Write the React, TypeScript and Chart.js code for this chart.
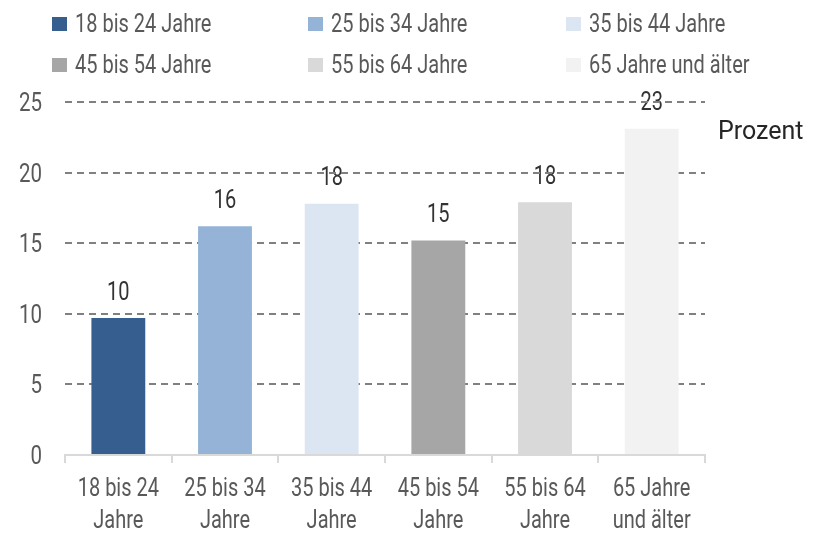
import React, { useEffect, useRef } from "react";
import { Chart, registerables } from "chart.js";

Chart.register(...registerables);

const categories: string[][] = [
  ["18 bis 24", "Jahre"],
  ["25 bis 34", "Jahre"],
  ["35 bis 44", "Jahre"],
  ["45 bis 54", "Jahre"],
  ["55 bis 64", "Jahre"],
  ["65 Jahre", "und älter"],
];
const legendLabels = [
  "18 bis 24 Jahre",
  "25 bis 34 Jahre",
  "35 bis 44 Jahre",
  "45 bis 54 Jahre",
  "55 bis 64 Jahre",
  "65 Jahre und älter",
];
const values = [9.7, 16.2, 17.8, 15.2, 17.9, 23.1];
const colors = ["#365F8F", "#95B3D7", "#DCE6F2", "#A6A6A6", "#D9D9D9", "#F2F2F2"];
const unitLabel = "Prozent";

const FONT = 'Roboto, "Noto Sans", sans-serif';

function txt(ctx: CanvasRenderingContext2D, s: string, x: number, y: number, size: number, sx: number, align: CanvasTextAlign, color: string) {
  ctx.save();
  ctx.font = `${size}px ${FONT}`;
  ctx.fillStyle = color;
  ctx.textAlign = align;
  ctx.textBaseline = "alphabetic";
  ctx.translate(x, y);
  ctx.scale(sx, 1);
  ctx.fillText(s, 0, 0);
  ctx.restore();
}

export default function App() {
  const ref = useRef<HTMLCanvasElement | null>(null);
  useEffect(() => {
    document.body.style.margin = "0";
    const canvas = ref.current!;
    const overlay = {
      id: "overlay",
      beforeDraw(chart: any) {
        const ctx = chart.ctx;
        // value labels (drawn under the gridlines)
        const meta = chart.getDatasetMeta(0);
        meta.data.forEach((el: any, i: number) => {
          txt(ctx, String(Math.round(values[i])), el.x, el.y - 18.5, 25, 0.8, "center", "#333333");
        });
        // legend
        const colX = [52, 308, 566];
        const rowY = [32, 73];
        legendLabels.forEach((t, i) => {
          const x = colX[i % 3];
          const y = rowY[Math.floor(i / 3)];
          ctx.fillStyle = colors[i];
          ctx.fillRect(x, y - 15, 15, 14);
          txt(ctx, t, x + 23, y, 25, 0.8, "left", "#595959");
        });
        // unit label
        txt(ctx, unitLabel, 718, 139, 25, 1, "left", "#262626");
        // y tick labels
        const ys = chart.scales.y;
        ys.ticks.forEach((tk: any, i: number) => {
          const py = ys.getPixelForTick(i);
          txt(ctx, String(tk.value), 42, py + 9, 25, 0.82, "right", "#595959");
        });
        // x tick labels
        const xs = chart.scales.x;
        categories.forEach((lines, i) => {
          const px = xs.getPixelForValue(i);
          lines.forEach((l, j) => {
            txt(ctx, l, px, xs.top + 41 + j * 32, 25, 0.8, "center", "#595959");
          });
        });
      },
    };
    const chart = new Chart(canvas, {
      type: "bar",
      data: {
        labels: categories,
        datasets: [
          {
            data: values,
            backgroundColor: colors,
            borderWidth: 0,
            categoryPercentage: 1,
            barPercentage: 0.505,
          },
        ],
      },
      options: {
        animation: false,
        responsive: false,
        devicePixelRatio: 1,
        layout: { padding: { top: 102, right: 117, left: 0, bottom: 0 } },
        plugins: { legend: { display: false }, tooltip: { enabled: false } },
        scales: {
          x: {
            grid: {
              display: true,
              drawOnChartArea: false,
              drawTicks: true,
              tickLength: 8,
              color: "#D9D9D9",
              lineWidth: 2,
              offset: true,
            },
            border: { display: true, color: "#D9D9D9", width: 2 },
            ticks: { display: false, autoSkip: false },
            afterFit(scale: any) {
              scale.height = 78;
            },
          },
          y: {
            min: 0,
            max: 25,
            grid: {
              drawTicks: false,
              color: (c: any) => (c.tick && c.tick.value === 0 ? "rgba(0,0,0,0)" : "#808080"),
              lineWidth: 2,
            },
            border: { display: false, dash: [7, 5] },
            ticks: { stepSize: 5, display: false },
            afterFit(scale: any) {
              scale.width = 65;
            },
          },
        },
      },
      plugins: [overlay],
    } as any);
    return () => chart.destroy();
  }, []);
  return (
    <div style={{ position: "absolute", left: 0, top: 0, width: 822, height: 533, background: "#fff" }}>
      <canvas ref={ref} width={822} height={533} style={{ width: 822, height: 533 }} />
    </div>
  );
}
